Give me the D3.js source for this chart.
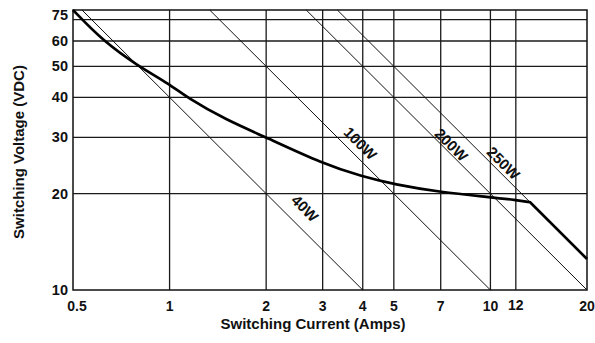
<!DOCTYPE html>
<html>
<head>
<meta charset="utf-8">
<script src="https://cdn.jsdelivr.net/npm/d3@7"></script>
<style>
  body { margin: 0; background: #fff; }
  svg text { font-family: "Liberation Sans", Arial, Helvetica, sans-serif; font-weight: bold; fill: #111; }
</style>
</head>
<body>
<script>
// tick values on both log axes
const xTicks = [0.5, 1, 2, 3, 4, 5, 7, 10, 12, 20];
const yTicks = [10, 20, 30, 40, 50, 60, 75];
const yGrid = [20, 30, 40, 50, 60, 70];

// constant power lines (W) and where their labels sit (amps, volts)
const powers = [40, 100, 200, 250];
const labelPos = [
  { p: 40, i: 2.64, v: 18.0 },
  { p: 100, i: 3.93, v: 28.7 },
  { p: 200, i: 7.55, v: 28.4 },
  { p: 250, i: 10.97, v: 24.9 },
];

// max switching curve, knee where it meets 250W
const curveAmps = [0.5, 0.62, 0.8, 1, 1.13, 1.5, 2, 3, 4, 5, 7, 10, 12, 13.3];
const curveVolts = [75, 60, 50, 44, 40, 34, 30, 24.8, 22.6, 21.4, 20.2, 19.5, 19.1, 18.8];
const tailAmps = [13.3, 20];
const tailVolts = [18.8, 12.5];

const W = 595, H = 343;
const x0 = 73, x1 = 587, y0 = 290, y1 = 10;

const svg = d3.select("body").append("svg")
  .attr("width", W)
  .attr("height", H);

const x = d3.scaleLog().domain([0.5, 20]).range([x0, x1]);
const y = d3.scaleLog().domain([10, 75]).range([y0, y1]);

// grid
svg.append("g")
  .selectAll("line")
  .data(xTicks.slice(1, -1))
  .enter()
  .append("line")
  .attr("x1", (d) => x(d))
  .attr("x2", (d) => x(d))
  .attr("y1", y0)
  .attr("y2", y1)
  .attr("stroke", "#1a1a1a")
  .attr("stroke-width", 1.3);

svg.append("g")
  .selectAll("line")
  .data(yGrid)
  .enter()
  .append("line")
  .attr("x1", x0)
  .attr("x2", x1)
  .attr("y1", (d) => y(d))
  .attr("y2", (d) => y(d))
  .attr("stroke", "#1a1a1a")
  .attr("stroke-width", 1.3);

// frame
svg.append("rect")
  .attr("x", x0)
  .attr("y", y1)
  .attr("width", x1 - x0)
  .attr("height", y0 - y1)
  .attr("fill", "none")
  .attr("stroke", "#111")
  .attr("stroke-width", 1.5);

// power lines V = P / I, clipped to the plot box
const [vMin, vMax] = y.domain();
const [iMin, iMax] = x.domain();
svg.append("g")
  .selectAll("line")
  .data(powers)
  .enter()
  .append("line")
  .attr("x1", (p) => x(Math.max(iMin, p / vMax)))
  .attr("y1", (p) => y(p / Math.max(iMin, p / vMax)))
  .attr("x2", (p) => x(Math.min(iMax, p / vMin)))
  .attr("y2", (p) => y(p / Math.min(iMax, p / vMin)))
  .attr("stroke", "#111")
  .attr("stroke-width", 1);

svg.append("g")
  .selectAll("text")
  .data(labelPos)
  .enter()
  .append("text")
  .attr("transform", (d) => `translate(${x(d.i)},${y(d.v)}) rotate(45)`)
  .attr("text-anchor", "middle")
  .attr("dy", "0.35em")
  .attr("font-size", 15)
  .text((d) => d.p + "W");

// switching curve: smooth part, then straight along 250W
const smooth = d3.line()
  .x((d) => x(d[0]))
  .y((d) => y(d[1]))
  .curve(d3.curveBasis);
const straight = d3.line()
  .x((d) => x(d[0]))
  .y((d) => y(d[1]));

svg.append("path")
  .attr("fill", "none")
  .attr("stroke", "#000")
  .attr("stroke-width", 2.7)
  .attr("stroke-linejoin", "miter")
  .attr("d", smooth(d3.zip(curveAmps, curveVolts)) +
    straight(d3.zip(tailAmps, tailVolts)).replace(/^M/, "L"));

// tick labels
svg.append("g")
  .selectAll("text")
  .data(xTicks)
  .enter()
  .append("text")
  .attr("x", (d) => x(d) + (d === 0.5 ? 4 : 0))
  .attr("y", (d) => (d === 12 ? 310 : 311))
  .attr("text-anchor", "middle")
  .attr("font-size", 14)
  .text((d) => d);

svg.append("g")
  .selectAll("text")
  .data(yTicks)
  .enter()
  .append("text")
  .attr("x", 68)
  .attr("y", (d) => (d === 75 ? 15 : y(d)))
  .attr("dy", "0.35em")
  .attr("text-anchor", "end")
  .attr("font-size", 14.5)
  .text((d) => d);

// axis titles
svg.append("text")
  .attr("x", 313)
  .attr("y", 329)
  .attr("text-anchor", "middle")
  .attr("font-size", 15)
  .text("Switching Current (Amps)");

svg.append("text")
  .attr("transform", `translate(24,152) rotate(-90)`)
  .attr("text-anchor", "middle")
  .attr("font-size", 15)
  .text("Switching Voltage (VDC)");
</script>
</body>
</html>
